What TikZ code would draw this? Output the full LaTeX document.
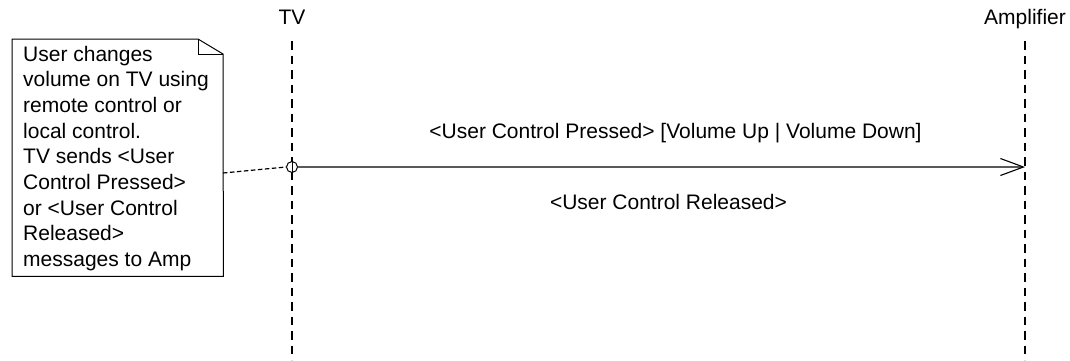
\documentclass[tikz,border=0pt]{standalone}
\usepackage{fontspec}
\setmainfont{Liberation Sans}
\usetikzlibrary{arrows.meta}
\begin{document}
\begin{tikzpicture}[x=1pt,y=-1pt,
  lifeline/.style={line width=1.2pt, dash pattern=on 8.5pt off 6pt},
  lbl/.style={font=\fontsize{21}{25}\selectfont, inner sep=0pt},
  notetext/.style={font=\fontsize{21}{25.7}\selectfont, inner sep=0pt, align=left, anchor=north west},
  notebox/.style={line width=1pt},
  msgline/.style={line width=1.1pt, draw=black!65},
  notelink/.style={line width=1.2pt, dash pattern=on 4.5pt off 2.5pt},
  startdot/.style={circle, draw, line width=1pt, minimum size=11pt, inner sep=0pt, fill=white}]
\useasboundingbox (0,0) rectangle (1070,360);
% lifelines
\node[lbl, anchor=base] (tv) at (292,24) {TV};
\node[lbl, anchor=base] (amp) at (1025,24) {Amplifier};
\coordinate (tvtop) at (292,41);
\coordinate (tvbot) at (292,360);
\coordinate (amptop) at (1025,41);
\coordinate (ampbot) at (1025,360);
\draw[lifeline] (tvtop) -- (tvbot);
\draw[lifeline] (amptop) -- (ampbot);
% note
\node[minimum width=211pt, minimum height=237pt, anchor=north west, inner sep=0pt] (note) at (12,39) {};
\coordinate (foldl) at (198,39);
\coordinate (foldb) at (223,54);
\draw[notebox] (note.north west) -- (foldl) -- (foldb) -- (note.south east) -- (note.south west) -- cycle;
\draw[notebox] (foldl) -- (foldl |- foldb) -- (foldb);
\node[notetext] (notetxt) at (23,45.6) {User changes\\volume on TV using\\remote control or\\local control.\\TV sends <User\\Control Pressed>\\or <User Control\\Released>\\messages to Amp};
% message
\node[startdot] (start) at (292,167) {};
\draw[line width=1pt] (start.north) -- (start.south);
\coordinate (ampmsg) at (1025,167);
\draw[msgline, -{Straight Barb[length=23pt,width=17pt,color=black,line width=1.1pt]}] (start.east) -- (ampmsg);
\coordinate (nlink) at (223,173);
\draw[notelink] (nlink) -- (start.west);
\node[lbl, anchor=base] (m1) at (675.5,138.5) {<User Control Pressed> [Volume Up | Volume Down]};
\node[lbl, anchor=base] (m2) at (668.5,209) {<User Control Released>};
\end{tikzpicture}
\end{document}
